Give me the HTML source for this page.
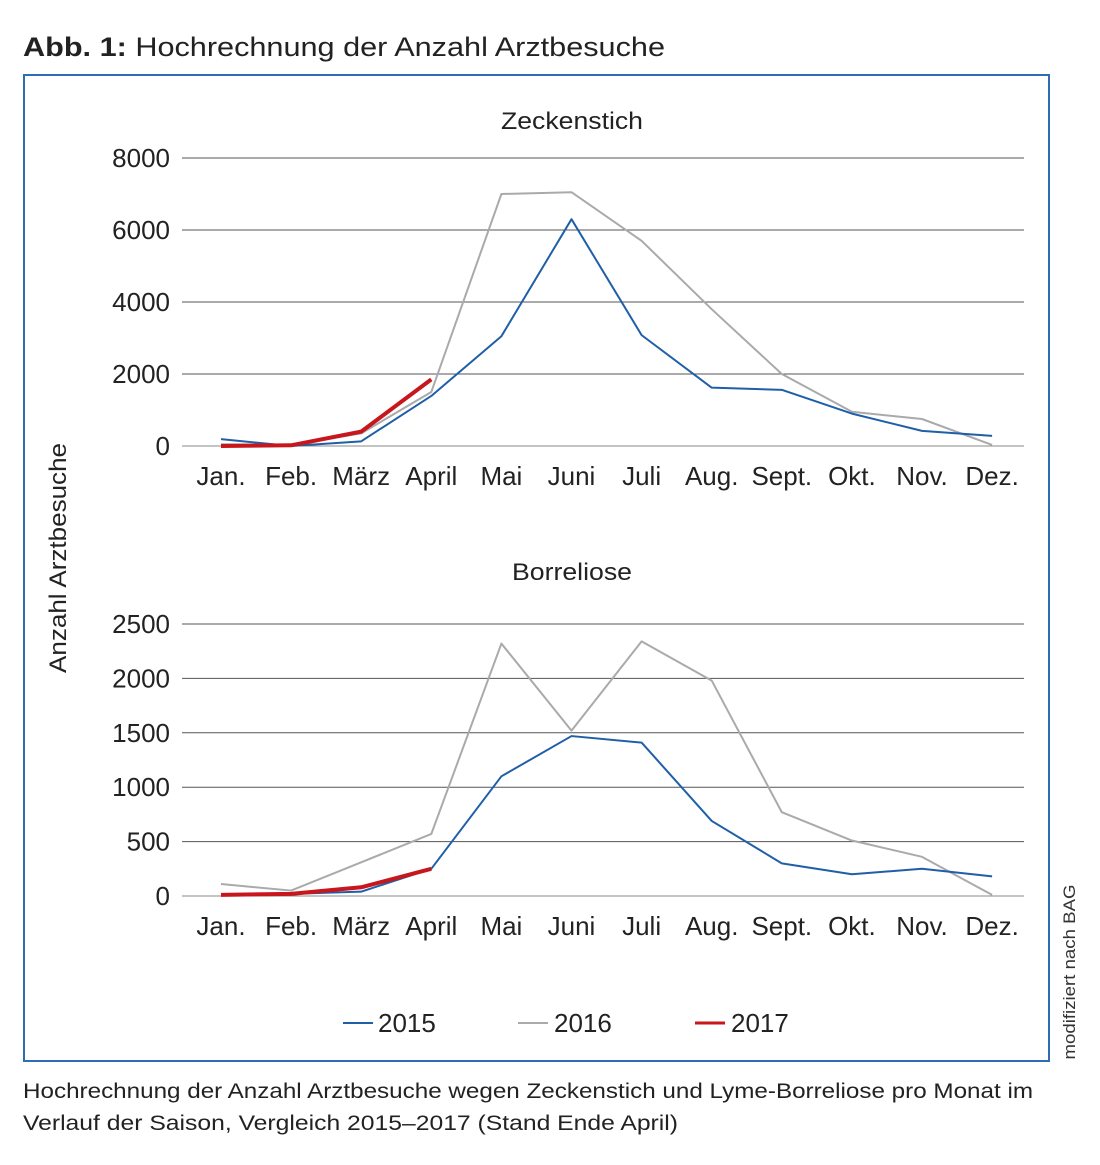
<!DOCTYPE html>
<html><head><meta charset="utf-8"><style>
body{margin:0;background:#fff;width:1100px;height:1160px;overflow:hidden;font-family:"Liberation Sans",sans-serif;}
</style></head><body>
<svg id="c" width="1100" height="1160" xmlns="http://www.w3.org/2000/svg" font-family="Liberation Sans, sans-serif">
<text x="23" y="56" font-size="27" fill="#222" textLength="642" lengthAdjust="spacingAndGlyphs"><tspan font-weight="bold">Abb. 1:</tspan> Hochrechnung der Anzahl Arztbesuche</text>
<rect x="24" y="75" width="1025" height="986" fill="none" stroke="#2f6db3" stroke-width="2"/>
<text x="572" y="129" font-size="24" text-anchor="middle" fill="#222" textLength="142" lengthAdjust="spacingAndGlyphs">Zeckenstich</text>
<text x="572" y="580" font-size="24" text-anchor="middle" fill="#222" textLength="120" lengthAdjust="spacingAndGlyphs">Borreliose</text>
<text transform="translate(66,558) rotate(-90)" font-size="24" text-anchor="middle" fill="#222" textLength="230" lengthAdjust="spacingAndGlyphs">Anzahl Arztbesuche</text>
<text transform="translate(1075,972) rotate(-90)" font-size="17" text-anchor="middle" fill="#333" textLength="175" lengthAdjust="spacingAndGlyphs">modifiziert nach BAG</text>
<g>
<line x1="343" y1="1023" x2="373" y2="1023" stroke="#1f5fa8" stroke-width="2"/><text x="378" y="1032" font-size="26" fill="#222">2015</text>
<line x1="518" y1="1023" x2="548" y2="1023" stroke="#aaa" stroke-width="2"/><text x="554" y="1032" font-size="26" fill="#222">2016</text>
<line x1="695" y1="1023" x2="725" y2="1023" stroke="#c8161d" stroke-width="3"/><text x="731" y="1032" font-size="26" fill="#222">2017</text>
</g>
<text x="23" y="1098" font-size="21" fill="#222" textLength="1010" lengthAdjust="spacingAndGlyphs">Hochrechnung der Anzahl Arztbesuche wegen Zeckenstich und Lyme-Borreliose pro Monat im</text>
<text x="23" y="1130" font-size="21" fill="#222" textLength="655" lengthAdjust="spacingAndGlyphs">Verlauf der Saison, Vergleich 2015–2017 (Stand Ende April)</text>
</svg>
<script>
const months=["Jan.","Feb.","März","April","Mai","Juni","Juli","Aug.","Sept.","Okt.","Nov.","Dez."];
const topTicks=[0,2000,4000,6000,8000];
const top2015=[190,0,130,1390,3050,6300,3080,1620,1560,900,420,280];
const top2016=[50,30,350,1500,7000,7050,5700,3800,2000,950,750,30];
const top2017=[0,20,400,1850];
const botTicks=[0,500,1000,1500,2000,2500];
const bot2015=[10,20,40,250,1100,1470,1410,690,300,200,250,180];
const bot2016=[110,50,310,570,2320,1520,2340,1980,770,510,360,10];
const bot2017=[10,20,80,250];
const svg=document.getElementById('c');const NS="http://www.w3.org/2000/svg";
function el(t,a){const e=document.createElementNS(NS,t);for(const k in a)e.setAttribute(k,a[k]);svg.appendChild(e);return e;}
const xs=i=>221+i*70.1;
function panel(ticks,max,y0,y1,series,prefix){
  const ys=v=>y0-(v/max)*(y0-y1);
  ticks.forEach(t=>{
    const l=el('line',{x1:182,x2:1024,y1:ys(t),y2:ys(t),stroke:t===0?'#888':'#555','stroke-width':1});
    
    
    const tx=el('text',{x:170,y:ys(t)+9,'font-size':26,'text-anchor':'end',fill:'#222'});tx.textContent=t;
    
    
  });
  months.forEach((m,i)=>{
    const tx=el('text',{x:xs(i),y:y0+39,'font-size':26,'text-anchor':'middle',fill:'#222'});tx.textContent=m;
    
    
  });
  series.forEach(s=>{
    const p=el('polyline',{points:s.d.map((v,i)=>xs(i)+','+ys(v)).join(' '),fill:'none',stroke:s.c,'stroke-width':s.w,'stroke-linejoin':'round'});
    
    
  });
}
panel(topTicks,8000,446,158,[{d:top2016,c:'#aaa',w:2,n:'2016'},{d:top2015,c:'#1f5fa8',w:2,n:'2015'},{d:top2017,c:'#c8161d',w:4,n:'2017'}],'top');
panel(botTicks,2500,896,624,[{d:bot2016,c:'#aaa',w:2,n:'2016'},{d:bot2015,c:'#1f5fa8',w:2,n:'2015'},{d:bot2017,c:'#c8161d',w:4,n:'2017'}],'bottom');
</script>
</body></html>
